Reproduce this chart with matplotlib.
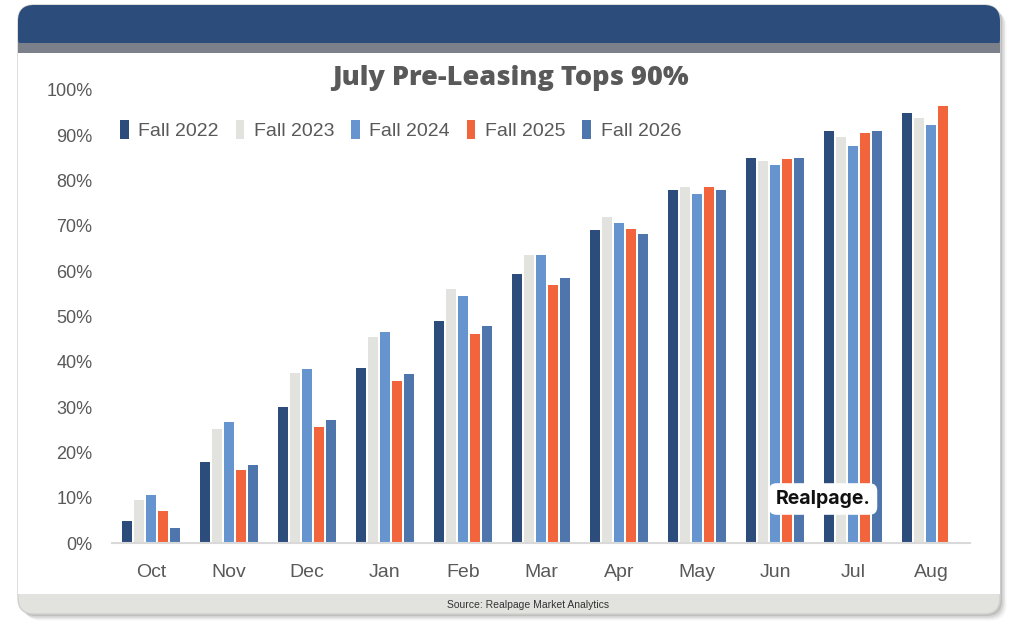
import numpy as np
import matplotlib
matplotlib.use("Agg")
from matplotlib import pyplot as plt
from matplotlib.patches import FancyBboxPatch, Rectangle

# chart data (pre-leasing share, %)
months = ['Oct', 'Nov', 'Dec', 'Jan', 'Feb', 'Mar', 'Apr', 'May', 'Jun', 'Jul', 'Aug']
fall_2022 = [4.9, 17.9, 30.0, 38.6, 49.0, 59.4, 69.1, 77.9, 85.0, 90.9, 94.9]
fall_2023 = [9.5, 25.2, 37.5, 45.5, 56.1, 63.6, 72.0, 78.6, 84.3, 89.6, 93.8]
fall_2024 = [10.6, 26.7, 38.4, 46.6, 54.5, 63.6, 70.6, 77.0, 83.4, 87.6, 92.3]
fall_2025 = [7.1, 16.1, 25.6, 35.8, 46.1, 57.0, 69.3, 78.6, 84.8, 90.5, 96.5]
fall_2026 = [3.3, 17.2, 27.2, 37.3, 47.9, 58.5, 68.2, 77.9, 85.0, 90.9, np.nan]

series = [('Fall 2022', fall_2022, '#2C4C7C'),
          ('Fall 2023', fall_2023, '#E2E2DE'),
          ('Fall 2024', fall_2024, '#6694CF'),
          ('Fall 2025', fall_2025, '#F2643C'),
          ('Fall 2026', fall_2026, '#4E76AC')]

W, H = 1020, 633
fig = plt.figure(figsize=(W/100, H/100), dpi=100)

# background card, drawn in pixel coords
bg = fig.add_axes([0, 0, 1, 1], zorder=0)
bg.set_xlim(0, W)
bg.set_ylim(H, 0)
bg.axis('off')

x0, x1, y0, y1 = 18, 1000, 5, 614
for k, a in enumerate([0.10, 0.08, 0.06, 0.04]):
    off = 2 + k*1.5
    bg.add_patch(FancyBboxPatch((x0 + off, y0 + off), x1 - x0, y1 - y0,
                                boxstyle="round,pad=0,rounding_size=16",
                                fc='#000000', ec='none', alpha=a))
bg.add_patch(FancyBboxPatch((x0, y0), x1 - x0, y1 - y0,
                            boxstyle="round,pad=0,rounding_size=16",
                            fc='#E2E2DE', ec='#D0D0CC', lw=1))
bg.add_patch(FancyBboxPatch((x0, y0), x1 - x0, 50,
                            boxstyle="round,pad=0,rounding_size=16",
                            fc='#2C4C7C', ec='none'))
bg.add_patch(Rectangle((x0, 43), x1 - x0, 10, fc='#7C808A', ec='none'))
bg.add_patch(Rectangle((x0, 53), x1 - x0, 541, fc='white', ec='none'))

bg.text(510, 78, 'July Pre-Leasing Tops 90%', ha='center', va='center',
        fontsize=19.5, fontweight='heavy', color='#595959', family='Open Sans')
bg.text(528, 605, 'Source: Realpage Market Analytics', ha='center', va='center',
        fontsize=7.5, color='#333333', family='Liberation Sans')

# main chart
ax = fig.add_axes([112/W, 1 - 543/H, (970 - 112)/W, (543 - 90)/H], zorder=1)
ax.patch.set_alpha(0)
x = np.arange(len(months))
bw = 0.128
step = 0.154
for i, (name, vals, col) in enumerate(series):
    ax.bar(x + (i - 2)*step, vals, width=bw, color=col, label=name)

ax.set_xlim(-0.5, len(months) - 0.5)
ax.set_ylim(0, 100)
ax.set_yticks(np.arange(0, 101, 10))
ax.set_yticklabels([f'{v}%' for v in range(0, 101, 10)])
ax.set_xticks(x)
ax.set_xticklabels(months)
for s in ['top', 'right', 'left']:
    ax.spines[s].set_visible(False)
ax.spines['bottom'].set_color('#D9D9D9')
ax.spines['bottom'].set_linewidth(1.5)
ax.tick_params(axis='both', length=0, colors='#595959')
ax.tick_params(axis='y', pad=14, labelsize=13)
ax.tick_params(axis='x', pad=15, labelsize=14)
for t in ax.get_yticklabels() + ax.get_xticklabels():
    t.set_family('Liberation Sans')

leg = ax.legend(loc='upper left', bbox_to_anchor=(120/W, 1 - 120/H),
                bbox_transform=fig.transFigure, ncol=5, frameon=False,
                handlelength=0.45, handleheight=1.1, handletextpad=0.5,
                columnspacing=0.85, borderaxespad=0, borderpad=0,
                prop={'family': 'Liberation Sans', 'size': 14})
for t in leg.get_texts():
    t.set_color('#595959')

# logo badge
ax.text(823/W, 1 - 499/H, 'Realpage.', transform=fig.transFigure,
        ha='center', va='center', fontsize=14, fontweight='bold', color='#111111',
        family='Inter', zorder=5,
        bbox=dict(boxstyle='round,pad=0.35,rounding_size=0.4', fc='white', ec='none'))

fig.savefig('out.png', dpi=100)
